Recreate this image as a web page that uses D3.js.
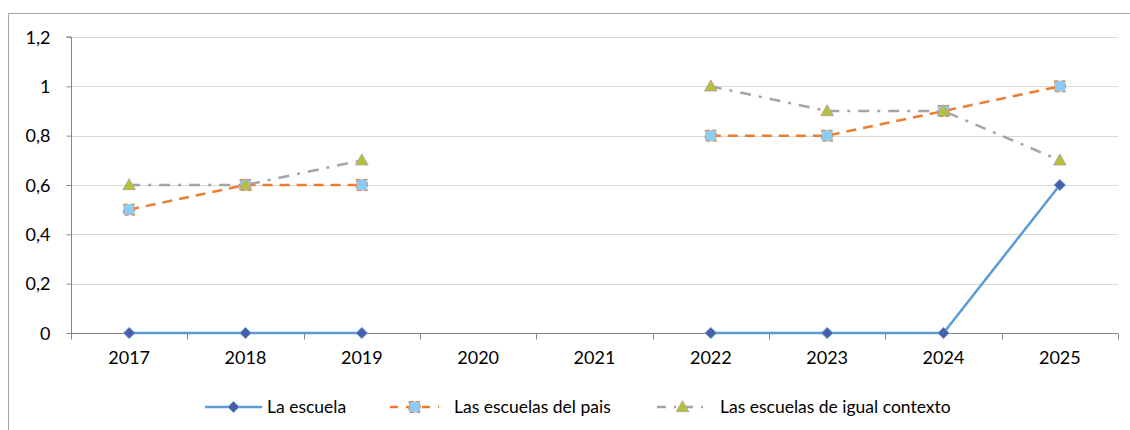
<!DOCTYPE html>
<html><head><meta charset="utf-8">
<script src="https://cdn.jsdelivr.net/npm/d3@7"></script>
<style>body{margin:0;background:#fff}svg{display:block}text{font-family:Lato,"Liberation Sans",sans-serif;fill:#000}</style>
</head><body>
<svg id="c" width="1130" height="430"></svg>
<script>
const years = ["2017","2018","2019","2020","2021","2022","2023","2024","2025"];
const escuela = [0,0,0,null,null,0,0,0,0.6];
const pais = [0.5,0.6,0.6,null,null,0.8,0.8,0.9,1.0];
const contexto = [0.6,0.6,0.7,null,null,1.0,0.9,0.9,0.7];
const yTicks = [0,0.2,0.4,0.6,0.8,1,1.2];
const seriesNames = ["La escuela","Las escuelas del pais","Las escuelas de igual contexto"];

const svg = d3.select("#c");
svg.append("rect").attr("x",8.5).attr("y",13.5).attr("width",1130).attr("height",430).attr("fill","none").attr("stroke","#a6a6a6");
const L=71, R=1118, T=37, B=333;
const x = d3.scaleBand().domain(years).range([L,R]);
const y = d3.scaleLinear().domain([0,1.2]).range([B,T]);
const fmt = v => String(v).replace(".",",");

svg.append("g").selectAll("line").data(yTicks.filter(v=>v>0)).join("line")
  .attr("x1",L).attr("x2",R).attr("y1",d=>Math.round(y(d))+0.5).attr("y2",d=>Math.round(y(d))+0.5)
  .attr("stroke","#d9d9d9").attr("stroke-width",1);

const yAx = svg.append("g").attr("transform",`translate(${L+0.5},0)`)
  .call(d3.axisLeft(y).tickValues(yTicks).tickFormat(fmt).tickSize(5).tickPadding(16));
yAx.select(".domain").attr("stroke","#868686").attr("d",`M-5,${T}H0V${B}`);
yAx.selectAll(".tick line").attr("stroke","#868686");
yAx.selectAll("text").attr("font-size",18).attr("dy","0.35em").style("font-family","Lato,'Liberation Sans',sans-serif");

const xAx = svg.append("g").attr("transform",`translate(0,${B+0.5})`);
xAx.append("line").attr("x1",L).attr("x2",R).attr("stroke","#868686");
xAx.selectAll("line.t").data(d3.range(years.length+1)).join("line")
  .attr("x1",i=>Math.round(L+i*x.step())+0.5).attr("x2",i=>Math.round(L+i*x.step())+0.5)
  .attr("y1",0).attr("y2",6).attr("stroke","#868686");
xAx.selectAll("text").data(years).join("text")
  .attr("x",d=>x(d)+x.bandwidth()/2).attr("y",30).attr("text-anchor","middle")
  .attr("font-size",18).text(d=>d);

const cx = i => x(years[i])+x.bandwidth()/2;
const line = d3.line().defined(d=>d!==null).x((d,i)=>cx(i)).y(d=>y(d));

const styles = [
  {data:escuela,stroke:"#5b9bd5",dash:null,w:2.5},
  {data:pais,stroke:"#ed7d31",dash:"10,7",w:2.5},
  {data:contexto,stroke:"#a5a5a5",dash:"11,8,3,8",w:2.5}
];
styles.forEach(s=>{
  svg.append("path").datum(s.data).attr("d",line).attr("fill","none")
    .attr("stroke",s.stroke).attr("stroke-width",s.w).attr("stroke-dasharray",s.dash);
});

function marker(sel,k,px,py){
  if(k===0){
    sel.append("path").attr("d",d3.symbol(d3.symbolDiamond2,80)()).attr("transform",`translate(${px},${py})`)
      .attr("fill","#4a5da8").attr("stroke","#5b9bd5").attr("stroke-width",1);
  } else if(k===1){
    sel.append("rect").attr("x",px-5.5).attr("y",py-5.5).attr("width",11).attr("height",11)
      .attr("fill","#8ecbf2").attr("stroke","#ed7d31").attr("stroke-width",1).attr("stroke-dasharray","4,3");
  } else {
    sel.append("path").attr("d",d3.symbol(d3.symbolTriangle,70)()).attr("transform",`translate(${px},${py+1})`)
      .attr("fill","#b8bf38").attr("stroke","#a5a5a5").attr("stroke-width",0.8);
  }
}
[escuela,pais,contexto].forEach((arr,k)=>{
  const mg = svg.append("g");
  arr.forEach((v,i)=>{ if(v!==null) marker(mg,k,cx(i),y(v)); });
});

// legend
const legX = [205,390,657];
const legX1 = [262,439,708];
const legTX = [267,454,720];
const ly = 407;
seriesNames.forEach((n,k)=>{
  const lg = svg.append("g");
  const x0 = legX[k], x1 = legX1[k];
  lg.append("line").attr("x1",x0).attr("x2",x1).attr("y1",ly).attr("y2",ly)
    .attr("stroke",styles[k].stroke).attr("stroke-width",2.5).attr("stroke-dasharray",k===0?null:(k===1?"8,8":"9,8,2,8"));
  marker(lg,k,(x0+x1)/2,ly);
  lg.append("text").attr("x",legTX[k]).attr("y",ly+6).attr("font-size",17.5).text(n);
});
</script>
</body></html>
